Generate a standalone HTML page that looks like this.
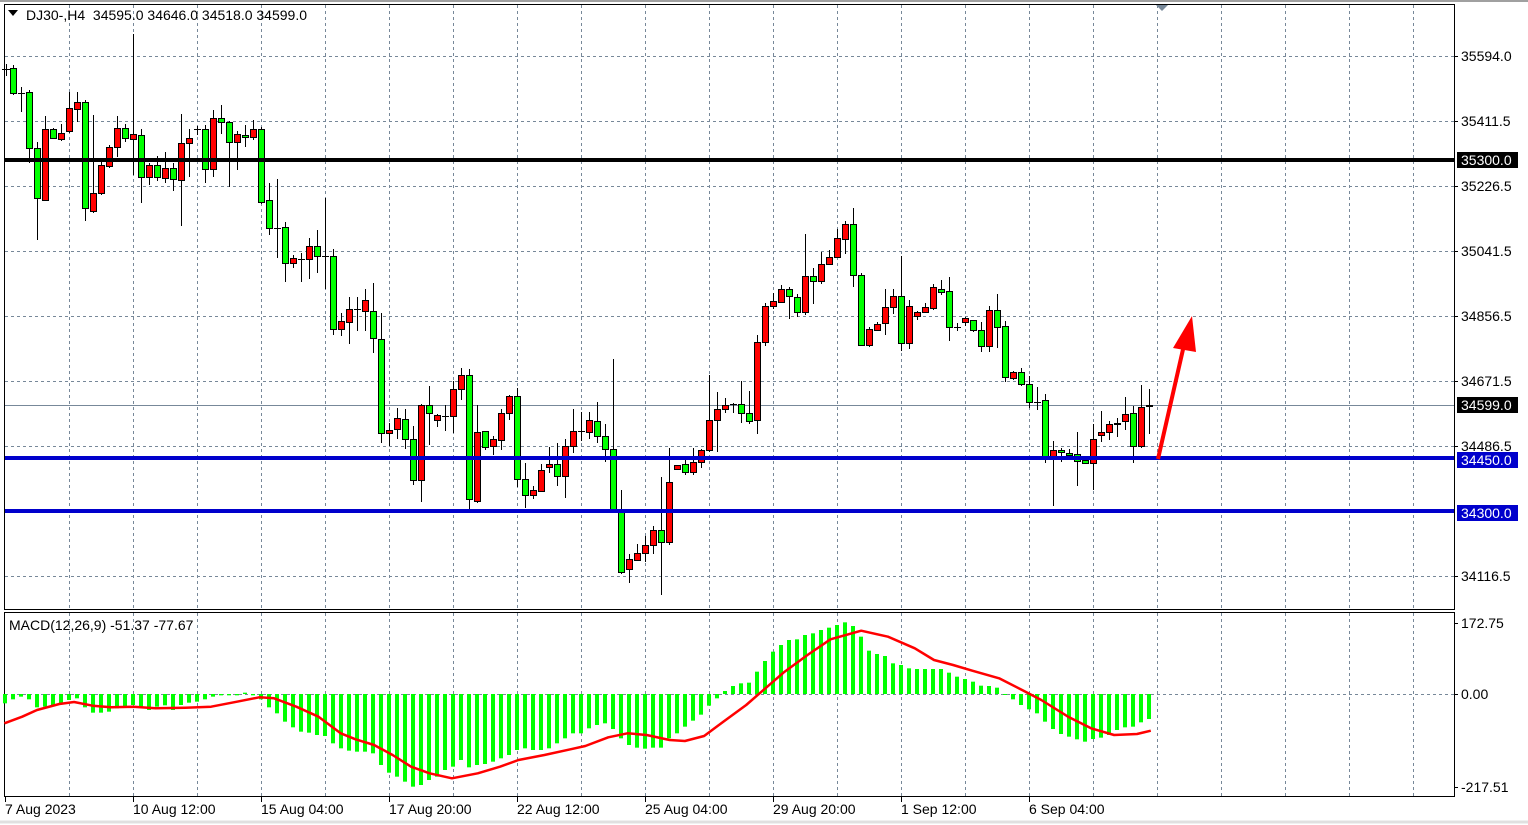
<!DOCTYPE html>
<html><head><meta charset="utf-8"><style>
html,body{margin:0;padding:0;background:#fff;}
svg{display:block;font-family:"Liberation Sans",sans-serif;}
</style></head><body>
<svg id="s" width="1528" height="825" xmlns="http://www.w3.org/2000/svg"></svg>
<script>
const C=[[13,68,93,65,95],[21,93,93,87,112],[29,92,148,90,163],[37,148,198,142,240],[45,200,129,116,200],[53,129,138,128,139],[61,139,133,124,141],[69,131,108,92,133],[77,109,102,92,122],[85,102,208,100,221],[93,211,193,115,213],[101,193,165,162,195],[109,166,147,145,168],[117,147,128,116,157],[125,128,138,124,142],[133,139,134,34,175],[141,135,177,129,203],[149,177,165,163,185],[157,165,177,156,181],[165,178,168,152,183],[173,168,179,163,191],[181,180,143,114,226],[189,143,138,129,177],[197,129,129,126,135],[205,129,169,125,183],[213,169,118,110,177],[221,118,122,105,134],[229,122,142,121,187],[237,142,134,131,170],[245,135,137,125,147],[253,137,129,120,140],[261,129,202,127,204],[269,200,228,183,235],[277,228,228,179,258],[285,227,263,222,282],[293,263,258,255,268],[301,259,259,253,282],[309,259,246,238,279],[317,246,256,230,273],[325,256,256,198,289],[333,256,329,249,335],[341,329,321,313,336],[349,322,309,297,344],[357,309,309,297,331],[365,311,300,289,331],[373,311,338,283,353],[381,339,433,313,443],[389,433,430,423,446],[397,429,418,408,439],[405,419,439,409,449],[413,439,480,426,485],[421,480,405,404,502],[429,405,413,386,445],[437,420,415,414,427],[445,416,416,405,431],[453,416,389,381,433],[461,389,375,368,400],[469,375,499,369,509],[477,501,432,405,503],[485,431,447,431,450],[493,446,439,436,455],[501,440,413,409,450],[509,413,396,395,420],[517,396,479,388,487],[525,479,495,463,508],[533,495,490,486,499],[541,491,470,464,491],[549,467,464,447,473],[557,464,476,443,486],[565,476,446,439,498],[573,446,431,409,453],[581,431,431,412,441],[589,432,420,412,439],[597,421,436,402,443],[605,436,449,424,462],[613,449,510,359,510],[621,512,572,490,574],[629,569,559,554,583],[637,560,553,544,561],[645,553,545,536,562],[653,545,530,526,554],[661,530,542,477,595],[669,542,482,448,545],[677,469,465,465,469],[685,464,472,460,475],[693,472,462,448,475],[701,462,450,449,468],[709,450,420,375,452],[717,420,409,392,452],[725,409,405,398,413],[733,404,404,403,413],[741,404,413,381,423],[749,413,421,391,424],[757,420,342,335,434],[765,342,306,303,346],[773,306,301,293,309],[781,302,289,285,302],[789,289,296,287,319],[797,297,312,294,317],[805,312,276,234,315],[813,276,281,268,304],[821,281,264,252,284],[829,264,257,250,264],[837,257,238,229,254],[845,239,224,221,254],[853,224,275,208,287],[861,275,345,273,346],[869,345,329,327,347],[877,330,324,322,331],[885,323,307,289,335],[893,307,296,289,314],[901,296,343,256,351],[909,343,306,300,349],[917,316,312,311,320],[925,312,307,303,313],[933,308,287,284,310],[941,289,292,280,295],[949,291,327,277,341],[957,327,327,323,331],[965,322,318,317,326],[973,320,330,322,332],[981,330,346,322,352],[989,346,310,306,352],[997,310,327,294,348],[1005,326,377,321,382],[1013,378,372,371,380],[1021,372,384,368,386],[1029,384,402,376,408],[1037,402,402,387,410],[1045,400,458,394,463],[1053,458,450,441,506],[1061,450,452,448,462],[1069,453,455,449,460],[1077,454,461,432,486],[1085,460,463,457,464],[1093,463,439,424,490],[1101,435,432,411,442],[1109,432,424,421,440],[1117,424,423,418,437],[1125,421,414,397,430],[1133,413,446,406,463],[1141,446,407,385,448],[1149,406,405,389,434]];
const H4=[280,268,260,268,292,290,285,282,270,265,292,308,308,305,295,290,285,292,300,290,286,300,285,278,275,268,260,256,256,256,248,256,268,292,310,335,352,365,368,375,378,400,415,422,425,425,430,465,488,500,515,530,525,510,500,480,470,450,472,465,462,455,445,435,420,415,420,420,415,400,385,370];
const H5=[370,355,345,340,357,385,405,413,416,413,413,385,370,350,332,314,287,265,243,228,220,218,185,153,125,105,90,88,75,70,60,53,45,37,48,80,122,132,138,160,165,175,177,177,177,177,188,200,207,215,227,228,233,253,268,285,298,310,335,357,372,380,388,395,387,383,375,360,352,350,337,327];
const S4=[[12,340],[60,320],[100,300],[160,282],[200,276],[250,287],[300,292],[360,290],[420,295],[500,293],[570,290],[640,275],[700,262],[740,265],[800,290],[860,320],[920,370],[960,388],[1010,405],[1060,435],[1110,470],[1160,490],[1220,505],[1290,490],[1350,470],[1400,450],[1470,435],[1540,418]];
const S5=[[40,408],[100,382],[150,370],[200,375],[260,390],[300,393],[350,378],[400,335],[460,285],[510,235],[560,185],[620,135],[680,88],[760,62],[830,80],[900,115],[950,150],[1000,165],[1050,182],[1120,205],[1180,240],[1230,270],[1300,320],[1360,355],[1420,375],[1480,372],[1516,362]];
let o='';
const R=(x,y,w,h,f)=>`<rect x="${x}" y="${y}" width="${w}" height="${h}" fill="${f}"/>`;
const T=(x,y,t,a)=>`<text x="${x}" y="${y}" font-size="14" fill="#000" ${a||''}>${t}</text>`;
o+=`<rect x="4.5" y="4.5" width="1450" height="605" fill="none" stroke="#000"/>`;
o+=`<rect x="4.5" y="612.5" width="1450" height="184" fill="none" stroke="#000"/>`;
o+=`<line x1="0" y1="1" x2="1528" y2="1" stroke="#a0a0a0" stroke-width="2"/>`;
o+=`<line x1="0" y1="822" x2="1528" y2="822" stroke="#e0e0e0" stroke-width="3"/>`;
let g='';
for(let x=69;x<1454;x+=64){g+=`<line x1="${x+.5}" y1="5" x2="${x+.5}" y2="609"/><line x1="${x+.5}" y1="613" x2="${x+.5}" y2="796"/>`;}
[56,121,186,251,316,381,446,576].forEach(y=>{g+=`<line x1="5" y1="${y+.5}" x2="1454" y2="${y+.5}"/>`;});
g+=`<line x1="5" y1="694.5" x2="1454" y2="694.5"/>`;
o+=`<g stroke="#778899" stroke-dasharray="3,3" stroke-width="1">${g}</g>`;
o+=`<line x1="5" y1="405.5" x2="1454" y2="405.5" stroke="#778899"/>`;
const bars=H4.concat(H5);
bars.forEach((z,i)=>{const x=5+8*i;const y=610+z/3;const t=Math.min(y,694),h=Math.max(1,Math.abs(y-694));o+=R(x-2,t,4,h,'#00ff00');});
let pts=S4.map(p=>[p[0]/2.7,610+p[1]/3]).concat(S5.map(p=>[570+p[0]/2.61,610+p[1]/3]));
o+=`<polyline points="${pts.map(p=>p[0].toFixed(1)+','+p[1].toFixed(1)).join(' ')}" fill="none" stroke="#ff0000" stroke-width="2.5" stroke-linejoin="round"/>`;
o+=`<line x1="2" y1="69.5" x2="10" y2="69.5" stroke="#000"/><line x1="6.5" y1="64" x2="6.5" y2="76" stroke="#000"/>`;
C.forEach(c=>{const [x,op,cl,h,l]=c;o+=`<line x1="${x+.5}" y1="${h}" x2="${x+.5}" y2="${l}" stroke="#000"/>`;
 if(op==cl){o+=`<line x1="${x-3}" y1="${op+.5}" x2="${x+4}" y2="${op+.5}" stroke="#000"/>`;}
 else{const t=Math.min(op,cl),b=Math.max(op,cl);o+=`<rect x="${x-2.5}" y="${t+.5}" width="6" height="${b-t}" fill="${cl>op?'#00ff00':'#ff0000'}" stroke="#000"/>`;}});
o+=R(5,158,1449,4,'#000')+R(5,456,1449,4,'#0000cc')+R(5,509,1449,4,'#0000cc');
o+=`<line x1="1158" y1="459" x2="1184" y2="345" stroke="#ff0000" stroke-width="4"/><polygon points="1192,316 1173,348 1196,352" fill="#ff0000"/>`;
o+=`<polygon points="1156,5 1168,5 1162,11" fill="#778899"/>`;
o+=`<polygon points="8,10 18,10 13,16" fill="#000"/>`+T(26,20,'DJ30-,H4&#160;&#160;34595.0 34646.0 34518.0 34599.0');
o+=T(9,630,'MACD(12,26,9) -51.37 -77.67');
[[56,'35594.0'],[121,'35411.5'],[186,'35226.5'],[251,'35041.5'],[316,'34856.5'],[381,'34671.5'],[446,'34486.5'],[576,'34116.5'],[623,'172.75'],[694,'0.00'],[787,'-217.51']].forEach(a=>{o+=`<line x1="1454" y1="${a[0]+.5}" x2="1458" y2="${a[0]+.5}" stroke="#000"/>`+T(1461,a[0]+5,a[1]);});
[[160,'35300.0','#000'],[405,'34599.0','#000'],[460,'34450.0','#0000cc'],[513,'34300.0','#0000cc']].forEach(a=>{o+=R(1457,a[0]-8,61,16,a[2])+`<text x="1461" y="${a[0]+5}" font-size="14" fill="#fff">${a[1]}</text>`;});
[[5,'7 Aug 2023'],[133,'10 Aug 12:00'],[261,'15 Aug 04:00'],[389,'17 Aug 20:00'],[517,'22 Aug 12:00'],[645,'25 Aug 04:00'],[773,'29 Aug 20:00'],[901,'1 Sep 12:00'],[1029,'6 Sep 04:00']].forEach(a=>{o+=`<line x1="${a[0]+.5}" y1="797" x2="${a[0]+.5}" y2="802" stroke="#000"/>`+T(a[0],814,a[1]);});
document.getElementById('s').innerHTML=o;
</script>
</body></html>
